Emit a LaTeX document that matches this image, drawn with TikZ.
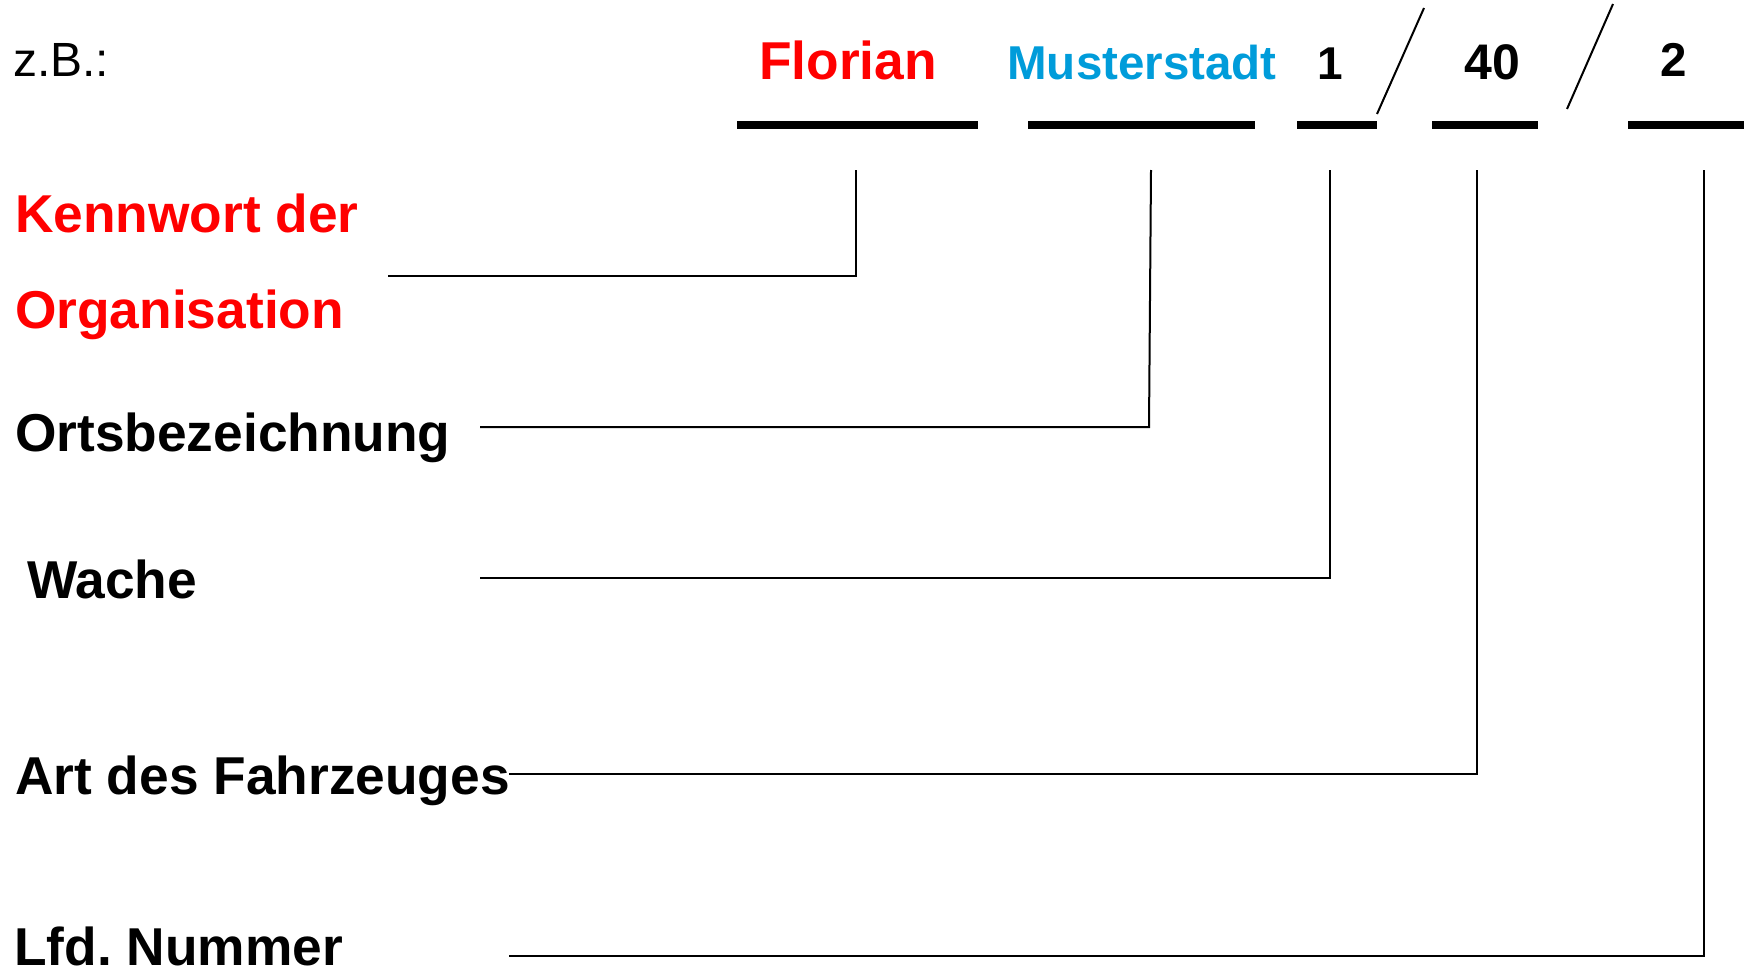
\documentclass[tikz,border=0pt]{standalone}
\usepackage{fontspec}
\setmainfont{Liberation Sans}
\usetikzlibrary{positioning}

\definecolor{orgred}{RGB}{255,0,0}
\definecolor{ortblue}{RGB}{0,156,218}

\begin{document}
\begin{tikzpicture}[
  x=1pt, y=-1pt,
  lbl/.style={inner sep=0pt, anchor=base west, font=\fontsize{53.3}{60}\selectfont\bfseries},
  part/.style={inner sep=0pt, anchor=base, font=\fontsize{53.3}{60}\selectfont\bfseries},
  bar/.style={line width=8pt},
  slash/.style={line width=2pt},
  conn/.style={line width=2pt}
]
\useasboundingbox (0,0) rectangle (1744,977);

% example call sign
\node[inner sep=0pt, anchor=base west, font=\fontsize{48}{54}\selectfont] (zb) at (13,76) {z.B.:};
\node[part, text=orgred] (florian) at (848,79) {Florian};
\node[part, text=ortblue, font=\fontsize{47.5}{52}\selectfont\bfseries] (muster) at (1142,79) {Musterstadt};
\node[part, font=\fontsize{46}{52}\selectfont\bfseries] (wnum) at (1330,79) {1};
\node[part, font=\fontsize{50}{56}\selectfont\bfseries] (fnum) at (1492,79) {40};
\node[part, font=\fontsize{47.5}{52}\selectfont\bfseries] (lnum) at (1674,76) {2};

% underlines
\draw[bar] (737,125) -- (978,125);
\draw[bar] (1028,125) -- (1255,125);
\draw[bar] (1297,125) -- (1377,125);
\draw[bar] (1432,125) -- (1538,125);
\draw[bar] (1628,125) -- (1744,125);

% separators
\draw[slash] (1377,114) -- (1424,8);
\draw[slash] (1567,109) -- (1613,4);

% explanations
\node[lbl, text=orgred] (kennwort) at (15,232) {Kennwort der};
\node[lbl, text=orgred] (organisation) at (15,328) {Organisation};
\node[lbl] (ort) at (15,451) {Ortsbezeichnung};
\node[lbl] (wache) at (27,598) {Wache};
\node[lbl] (art) at (15,794) {Art des Fahrzeuges};
\node[lbl] (lfd) at (14,965) {Lfd.\ Nummer};

% connector ends
\coordinate (c-florian) at (856,170);
\coordinate (c-muster) at (1151,170);
\coordinate (c-wnum) at (1330,170);
\coordinate (c-fnum) at (1477,170);
\coordinate (c-lnum) at (1704,170);
\coordinate (e-kennwort) at (388,276);
\coordinate (e-ort) at (480,427);
\coordinate (e-wache) at (480,578);
\coordinate (e-art) at (509,774);
\coordinate (e-lfd) at (509,956);

\draw[conn] (c-florian) |- (e-kennwort);
\draw[conn] (c-muster) -- (1149,427) -- (e-ort);
\draw[conn] (c-wnum) |- (e-wache);
\draw[conn] (c-fnum) |- (e-art);
\draw[conn] (c-lnum) |- (e-lfd);

\end{tikzpicture}
\end{document}
